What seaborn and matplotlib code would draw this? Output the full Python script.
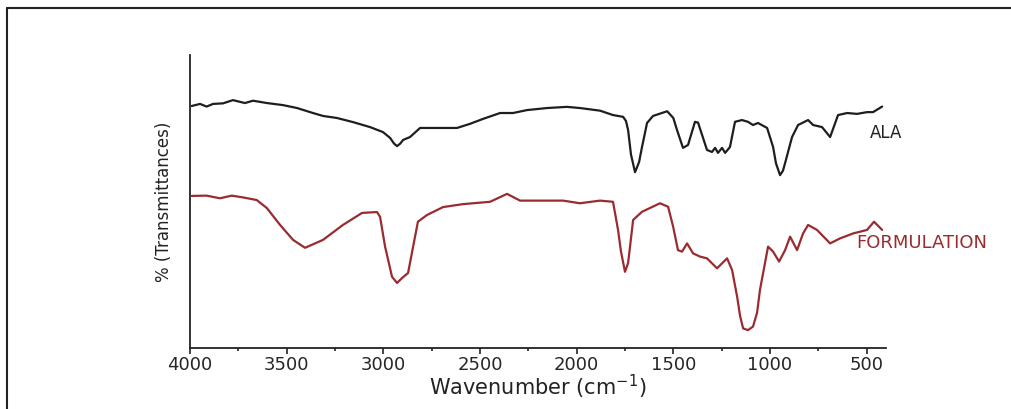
import numpy as np
import pandas as pd
import matplotlib.pyplot as plt
from matplotlib.lines import Line2D
from matplotlib.ticker import MultipleLocator
import seaborn as sns

sns.set_style("ticks")
plt.rcParams['font.family'] = ['DejaVu Sans']

# wavenumber (cm-1) and transmittance (arbitrary %)
ala_wn = [3991, 3948, 3914, 3881, 3829, 3778, 3716, 3674, 3602, 3519, 3446, 3364,
          3312, 3240, 3157, 3069, 3002, 2965, 2945, 2929, 2912, 2898, 2862, 2810,
          2619, 2552, 2484, 2396, 2329, 2257, 2153, 2050, 1983, 1879, 1812, 1760,
          1745, 1734, 1719, 1698, 1677, 1662, 1636, 1605, 1532, 1500, 1481, 1450,
          1424, 1388, 1372, 1326, 1300, 1284, 1269, 1248, 1232, 1207, 1181, 1145,
          1114, 1088, 1062, 1015, 984, 969, 948, 933, 922, 886, 855, 803, 777,
          731, 689, 648, 601, 550, 498, 467, 420]
ala_t = [82.6, 83.3, 82.4, 83.3, 83.5, 84.6, 83.6, 84.4, 83.6, 82.9, 81.9, 80.2,
         79.2, 78.5, 77.1, 75.4, 73.7, 71.7, 69.8, 68.9, 69.8, 71.0, 72.0, 75.1,
         75.1, 76.5, 78.2, 80.2, 80.2, 81.2, 81.9, 82.3, 81.9, 81.0, 79.5, 78.9,
         77.5, 74.4, 66.0, 60.0, 63.5, 68.6, 76.8, 79.2, 80.8, 78.5, 74.4, 68.3,
         69.3, 77.2, 76.9, 67.6, 66.9, 68.3, 66.6, 68.3, 66.6, 68.6, 77.2, 77.8,
         77.2, 76.1, 76.8, 75.1, 68.6, 63.0, 59.0, 60.5, 63.1, 72.0, 76.1, 77.8,
         76.1, 75.4, 72.0, 79.5, 80.2, 79.9, 80.5, 80.5, 82.4]

form_wn = [3991, 3914, 3845, 3784, 3726, 3655, 3603, 3534, 3467, 3405, 3312, 3209,
           3110, 3033, 3017, 2991, 2955, 2929, 2903, 2872, 2846, 2821, 2774, 2691,
           2588, 2448, 2360, 2293, 2153, 2070, 1983, 1879, 1812, 1786, 1771, 1750,
           1734, 1724, 1708, 1662, 1569, 1527, 1501, 1476, 1455, 1429, 1398, 1362,
           1326, 1274, 1222, 1196, 1170, 1155, 1139, 1114, 1088, 1067, 1052, 1010,
           984, 953, 922, 896, 860, 829, 803, 757, 689, 638, 570, 498, 462, 420]
form_t = [51.9, 52.0, 51.1, 52.0, 51.4, 50.5, 47.8, 42.0, 36.9, 34.2, 36.9, 42.0,
          46.1, 46.4, 44.8, 34.6, 24.3, 22.2, 23.9, 25.6, 34.6, 43.1, 45.4, 48.1,
          49.1, 49.9, 52.6, 50.3, 50.3, 50.3, 49.4, 50.3, 49.9, 40.3, 33.0, 26.0,
          29.0, 34.6, 43.7, 46.5, 49.4, 48.2, 41.4, 33.4, 32.9, 35.7, 32.3, 31.2,
          30.6, 27.2, 30.6, 26.6, 17.5, 11.0, 6.7, 6.1, 7.3, 12.0, 19.8, 34.6,
          32.9, 29.5, 33.4, 38.0, 33.4, 39.1, 42.0, 40.3, 35.7, 37.4, 39.1, 40.3,
          43.1, 40.3]

series = ['ALA', 'FORMULATION']
colors = {'ALA': '#1e1e1e', 'FORMULATION': '#9a2b30'}

df = pd.concat([
    pd.DataFrame({'wn': ala_wn, 't': ala_t, 'sample': 'ALA'}),
    pd.DataFrame({'wn': form_wn, 't': form_t, 'sample': 'FORMULATION'}),
])

fig = plt.figure(figsize=(10.11, 4.09), dpi=100)
ax = fig.add_axes([190 / 1011, 61 / 409, 696 / 1011, 293 / 409])

sns.lineplot(data=df, x='wn', y='t', hue='sample', palette=colors, sort=False,
             estimator=None, linewidth=1.6, legend=False, ax=ax)

ax.set_xlim(4000, 400)
ax.set_ylim(0, 100)
ax.xaxis.set_major_locator(MultipleLocator(500))
ax.xaxis.set_minor_locator(MultipleLocator(250))
ax.tick_params(axis='x', which='major', length=4, width=1.2, labelsize=13, pad=2, color='#222')
ax.tick_params(axis='x', which='minor', length=2.5, width=1.2, color='#222')
ax.set_yticks([])
for s in ['top', 'right']:
    ax.spines[s].set_visible(False)
for s in ['left', 'bottom']:
    ax.spines[s].set_linewidth(1.3)
    ax.spines[s].set_color('#222')

ax.set_xlabel('Wavenumber (cm$^{-1}$)', fontsize=15, labelpad=-1, color='#222')
ax.set_ylabel('% (Transmittances)', fontsize=12, labelpad=12, color='#222')

ax.text(483, 73.5, 'ALA', fontsize=12, color='#222', va='center', ha='left', clip_on=False)
ax.text(555, 35.8, 'FORMULATION', fontsize=13, color=colors['FORMULATION'],
        va='center', ha='left', clip_on=False)

# outer frame of the original figure (top and left edges visible)
fig.add_artist(Line2D([7 / 1011, 1.0], [1 - 8 / 409, 1 - 8 / 409], transform=fig.transFigure,
                      color='#222', linewidth=1.5))
fig.add_artist(Line2D([7 / 1011, 7 / 1011], [0.0, 1 - 8 / 409], transform=fig.transFigure,
                      color='#222', linewidth=1.5))

fig.savefig('out.png', dpi=100)
